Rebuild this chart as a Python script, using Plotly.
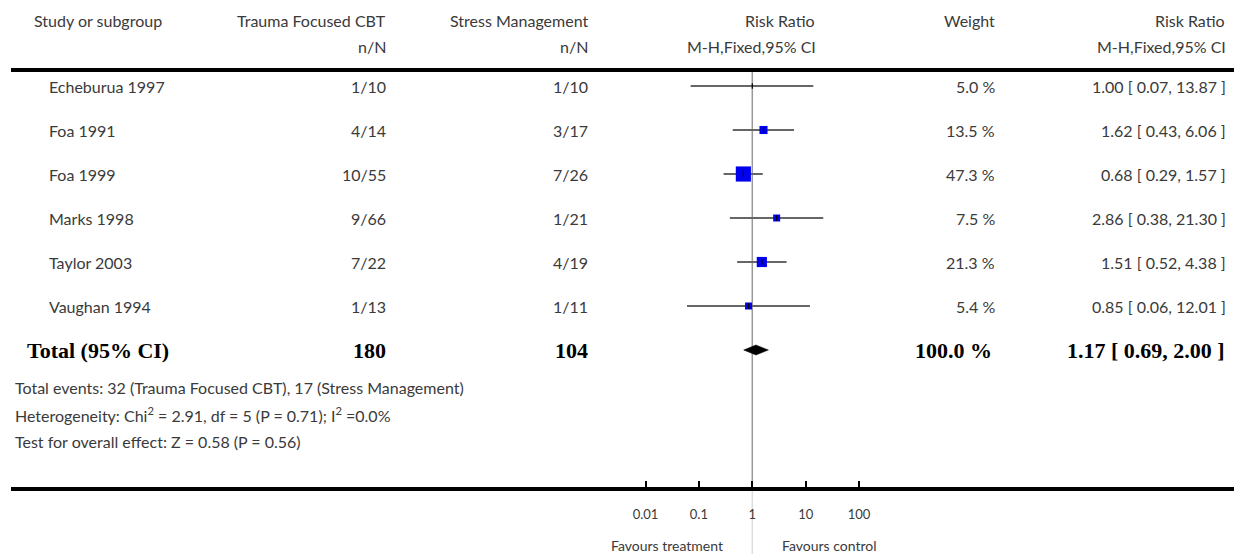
import plotly.graph_objects as go

# study level data
studies = ["Echeburua 1997", "Foa 1991", "Foa 1999", "Marks 1998", "Taylor 2003", "Vaughan 1994"]
trt_events = [1, 4, 10, 9, 7, 1]
trt_n = [10, 14, 55, 66, 22, 13]
ctl_events = [1, 3, 7, 1, 4, 1]
ctl_n = [10, 17, 26, 21, 19, 11]
weights = [5.0, 13.5, 47.3, 7.5, 21.3, 5.4]
rr = [1.00, 1.62, 0.68, 2.86, 1.51, 0.85]
rr_lo = [0.07, 0.43, 0.29, 0.38, 0.52, 0.06]
rr_hi = [13.87, 6.06, 1.57, 21.30, 4.38, 12.01]

# pooled result
total_weight = 100.0
total_rr = 1.17
total_lo = 0.69
total_hi = 2.00

tick_vals = [0.01, 0.1, 1, 10, 100]
tick_text = ["0.01", "0.1", "1", "10", "100"]

W, H = 1234, 554
FONT = "Lato"
TXT = "#3a3a3a"
row_y = [86 + 44 * i for i in range(len(studies))]
total_y = 350

fig = go.Figure()

# confidence intervals
ci_x, ci_y = [], []
for lo, hi, y in zip(rr_lo, rr_hi, row_y):
    ci_x += [lo, hi, None]
    ci_y += [y, y, None]
fig.add_trace(go.Scatter(x=ci_x, y=ci_y, mode="lines",
                         line=dict(color="#666666", width=2), hoverinfo="skip"))

# weight squares (tiny weights are not drawn)
sizes = [0 if w <= 5.0 else max(7, 2.2 * w ** 0.5) for w in weights]
fig.add_trace(go.Scatter(x=rr, y=row_y, mode="markers",
                         marker=dict(symbol="square", size=sizes, color="#0000ee",
                                     opacity=1, line=dict(width=0))))
fig.add_trace(go.Scatter(x=rr, y=row_y, mode="markers",
                         marker=dict(symbol="line-ns", size=4,
                                     line=dict(color="black", width=1.2))))

# pooled diamond
fig.add_trace(go.Scatter(x=[total_lo, total_rr, total_hi, total_rr, total_lo],
                         y=[total_y, total_y - 5, total_y, total_y + 5, total_y],
                         mode="lines", fill="toself", fillcolor="black",
                         line=dict(color="black", width=0.5)))

# line of no effect
fig.add_shape(type="line", xref="x", yref="y", x0=1, x1=1, y0=71, y1=487,
              line=dict(color="#999999", width=1.5), layer="below")
fig.add_shape(type="line", xref="x", yref="y", x0=1, x1=1, y0=491, y1=554,
              line=dict(color="#dddddd", width=1.5), layer="below")
# header rule
fig.add_shape(type="line", xref="paper", yref="y", x0=11 / W, x1=1, y0=70, y1=70,
              line=dict(color="black", width=4))


def txt(s, px, y, anchor="right", size=16, bold=False):
    fig.add_annotation(text=s, x=px / W, xref="paper", y=y, yref="y",
                       xanchor=anchor, yanchor="middle", showarrow=False,
                       font=dict(family="Liberation Serif" if bold else FONT,
                                 size=22 if bold else size,
                                 color="black" if bold else TXT,
                                 weight="bold" if bold else "normal"))


# headers
txt("Study or subgroup", 32, 20, "left")
txt("Trauma Focused CBT", 388, 20)
txt("n/N", 388, 46)
txt("Stress Management", 590, 20)
txt("n/N", 590, 46)
txt("Risk Ratio", 817, 20)
txt("M-H,Fixed,95% CI", 818, 46)
txt("Weight", 997, 20)
txt("Risk Ratio", 1227, 20)
txt("M-H,Fixed,95% CI", 1228, 46)

# study rows
for i, y in enumerate(row_y):
    txt(studies[i], 47, y, "left")
    txt(f"{trt_events[i]}/{trt_n[i]}", 388, y)
    txt(f"{ctl_events[i]}/{ctl_n[i]}", 590, y)
    txt(f"{weights[i]:.1f} %", 997, y)
    txt(f"{rr[i]:.2f} [ {rr_lo[i]:.2f}, {rr_hi[i]:.2f} ]", 1228, y)

# total row
txt("Total (95% CI)", 25, total_y, "left", bold=True)
txt(str(sum(trt_n)), 388, total_y, bold=True)
txt(str(sum(ctl_n)), 590, total_y, bold=True)
txt(f"{total_weight:.1f} %", 994, total_y, bold=True)
txt(f"{total_rr:.2f} [ {total_lo:.2f}, {total_hi:.2f} ]", 1227, total_y, bold=True)

txt(f"Total events: {sum(trt_events)} (Trauma Focused CBT), {sum(ctl_events)} (Stress Management)",
    13, 387, "left")
txt("Heterogeneity: Chi<sup>2</sup> = 2.91, df = 5 (P = 0.71); I<sup>2</sup> =0.0%", 13, 414, "left")
txt("Test for overall effect: Z = 0.58 (P = 0.56)", 13, 441, "left")

txt("Favours treatment", 725, 545, "right", size=14)
txt("Favours control", 780, 545, "left", size=14)

# log axis: 1 at x=752 px, 53.4 px per decade
px_dec = 53.4
x_one = 752.3
left = 11
fig.update_layout(
    width=W, height=H,
    margin=dict(l=0, r=0, t=0, b=0),
    paper_bgcolor="white", plot_bgcolor="white",
    showlegend=False,
    xaxis=dict(type="log", domain=[left / W, 1],
               range=[-(x_one - left) / px_dec, (W - x_one) / px_dec],
               anchor="free", position=(H - 489) / H,
               showline=True, linecolor="black", linewidth=4,
               ticks="inside", ticklen=6, tickwidth=2, tickcolor="black",
               tickvals=tick_vals, ticktext=tick_text, ticklabelstandoff=12,
               tickfont=dict(family=FONT, size=13, color=TXT),
               showgrid=False, zeroline=False),
    yaxis=dict(range=[H, 0], domain=[0, 1], visible=False,
               showgrid=False, zeroline=False),
)

# drop the default page margin so the figure sits at the window's corner
fig.write_html("out.html", config={"displayModeBar": False},
               post_script="document.body.style.margin='0';document.body.style.overflow='hidden';")
